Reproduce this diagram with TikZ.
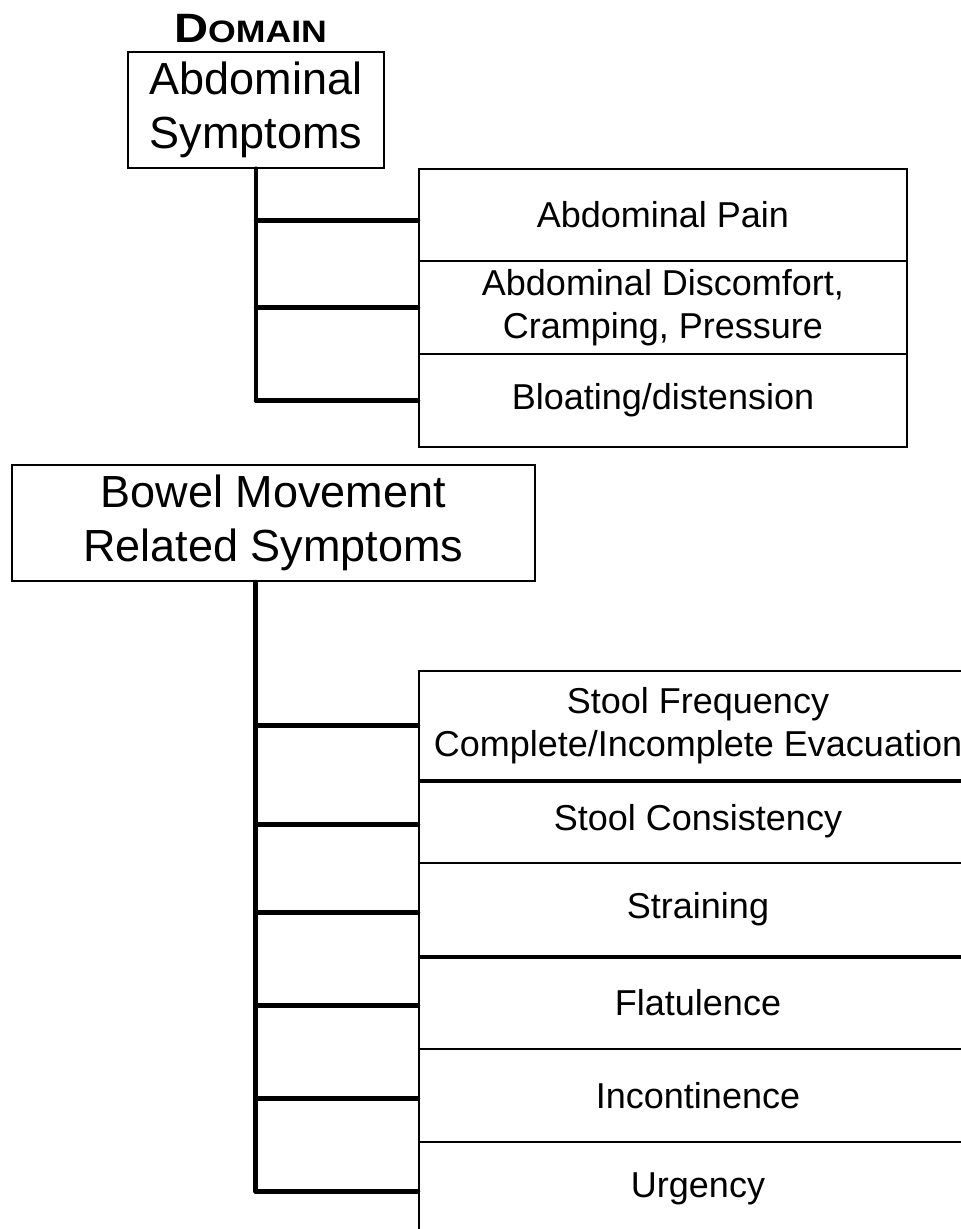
\documentclass[tikz,border=0pt]{standalone}
\usepackage{fontspec}
\setmainfont{Liberation Sans}
\tikzset{
  head/.style={draw, line width=2pt, inner sep=0pt, align=center,
    font=\fontsize{45pt}{54pt}\selectfont},
  cell/.style={draw, line width=2pt, inner sep=0pt, align=center,
    font=\fontsize{36pt}{43pt}\selectfont},
  upper/.style={cell, minimum width=488pt},
  lower/.style={cell, minimum width=558pt},
  trunk/.style={line width=4.5pt, line cap=round},
  branch/.style={line width=4.5pt, line cap=round},
}
\begin{document}
\begin{tikzpicture}[x=1pt, y=-1pt]
\clip (0,0) rectangle (961,1229);
\fill[white] (0,0) rectangle (961,1229);

% title
\node[anchor=base, inner sep=0pt] (domain) at (250.5,42.7)
  {\scalebox{1.15}[1]{\bfseries{\fontsize{41pt}{41pt}\selectfont D}{\fontsize{31pt}{31pt}\selectfont OMAIN}}};

% first domain
\node[head, minimum width=256pt, minimum height=116pt] (box1) at (256,109.7)
  {Abdominal\\Symptoms};
\node[upper, minimum height=92.3pt] (c1) at (663,214.9) {Abdominal Pain};
\node[upper, minimum height=93.3pt] (c2) at (663,307.7) {Abdominal Discomfort,\\Cramping, Pressure};
\node[upper, minimum height=92.4pt] (c3) at (663,400.5) {Bloating/distension};

\coordinate (t1) at (box1.south);
\draw[trunk] (t1) -- (t1 |- c3.west);
\draw[branch] ([yshift=-5.4pt]t1 |- c1.west) -- ([yshift=-5.4pt]c1.west);
\draw[branch] (t1 |- c2.west) -- (c2.west);
\draw[branch] (t1 |- c3.west) -- (c3.west);

% second domain
\node[head, minimum width=523pt, minimum height=116pt] (box2) at (273.5,523)
  {Bowel Movement\\Related Symptoms};
\node[lower, minimum height=109pt] (sf) at (698,725.5) {Stool Frequency\\Complete/Incomplete Evacuation};
\node[lower, minimum height=83pt] (sc) at (698,821.5) {Stool Consistency};
\node[lower, minimum height=93pt] (st) at (698,909.5) {Straining};
\node[lower, minimum height=93pt] (fl) at (698,1002.5) {Flatulence};
\node[lower, minimum height=93pt] (inc) at (698,1095.5) {Incontinence};
\node[lower, minimum height=93pt] (ur) at (698,1188.5) {Urgency};

\draw[line width=3pt] (sf.south west) -- (sf.south east);
\draw[line width=3pt] (st.south west) -- (st.south east);

\coordinate (t2) at ([xshift=-17.8pt]box2.south);
\draw[trunk] (t2) -- ([yshift=-3pt]t2 |- ur.west);
\draw[branch] (t2 |- sf.west) -- (sf.west);
\draw[branch] ([yshift=-3pt]t2 |- sc.west) -- ([yshift=-3pt]sc.west);
\draw[branch] ([yshift=-3pt]t2 |- st.west) -- ([yshift=-3pt]st.west);
\draw[branch] ([yshift=-3pt]t2 |- fl.west) -- ([yshift=-3pt]fl.west);
\draw[branch] ([yshift=-3pt]t2 |- inc.west) -- ([yshift=-3pt]inc.west);
\draw[branch] ([yshift=-3pt]t2 |- ur.west) -- ([yshift=-3pt]ur.west);
\end{tikzpicture}
\end{document}
